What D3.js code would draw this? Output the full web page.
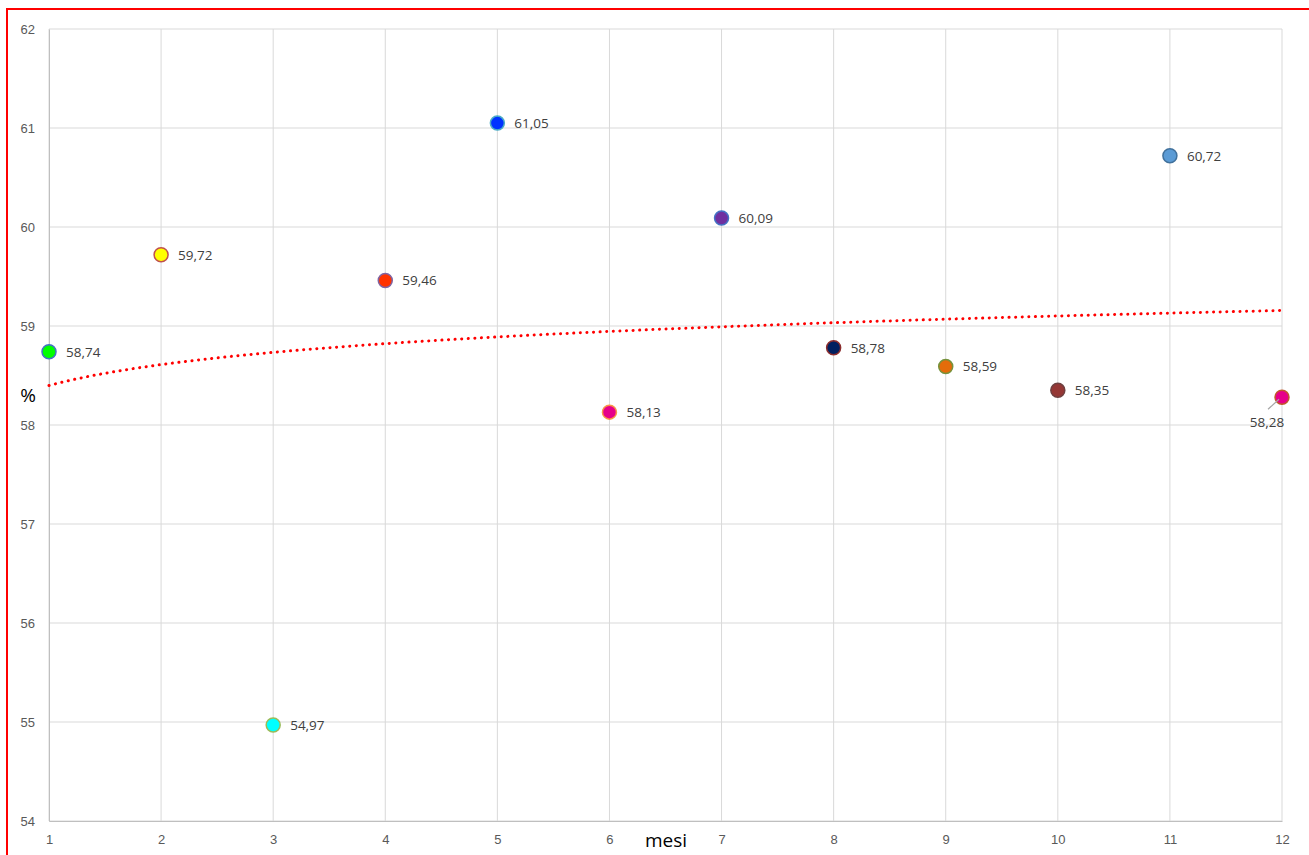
<!DOCTYPE html>
<html>
<head>
<meta charset="utf-8">
<script src="https://cdn.jsdelivr.net/npm/d3@7"></script>
<style>
  body { margin: 0; background: #fff; }
  svg { display: block; font-family: "Open Sans", "Noto Sans", sans-serif; }
  .grid line { stroke: #d9d9d9; stroke-width: 1; }
  .tick text { fill: #595959; font-size: 13px; }
  .lbl { fill: #404040; font-size: 13.5px; }
</style>
</head>
<body>
<svg width="1309" height="855"></svg>
<script>
// mesi e valori (%)
var months = [1, 2, 3, 4, 5, 6, 7, 8, 9, 10, 11, 12];
var values = [58.74, 59.72, 54.97, 59.46, 61.05, 58.13, 60.09, 58.78, 58.59, 58.35, 60.72, 58.28];
var labels = ["58,74", "59,72", "54,97", "59,46", "61,05", "58,13", "60,09", "58,78", "58,59", "58,35", "60,72", "58,28"];
var fills   = ["#00ff00", "#ffff00", "#00ffff", "#ff3300", "#0033ff", "#e6008a", "#7030a0", "#002060", "#e46c0a", "#953735", "#5b9bd5", "#e6008a"];
var strokes = ["#4472c4", "#c0504d", "#9bbb59", "#8064a2", "#4bacc6", "#f79646", "#4472c4", "#8b2d2d", "#76923c", "#6f4040", "#41719c", "#c05a2a"];
var yTicks = [54, 55, 56, 57, 58, 59, 60, 61, 62];

var svg = d3.select('svg');

var x = d3.scaleLinear().domain([1, 12]).range([49, 1282]);
var y = d3.scaleLinear().domain([54, 62]).range([821, 29]);

// outer red frame
svg.append('rect')
    .attr('x', 7).attr('y', 9)
    .attr('width', 1320).attr('height', 870)
    .attr('fill', 'none')
    .attr('stroke', '#ff0000')
    .attr('stroke-width', 2);

// grid
var grid = svg.append('g').attr('class', 'grid');
grid.selectAll('.h').data(yTicks).enter().append('line')
    .attr('x1', x(1)).attr('x2', x(12))
    .attr('y1', d => y(d)).attr('y2', d => y(d));
grid.selectAll('.v').data(months).enter().append('line')
    .attr('y1', y(54)).attr('y2', y(62))
    .attr('x1', d => x(d)).attr('x2', d => x(d));

// axes
var xAxis = svg.append('g')
    .attr('transform', 'translate(0,' + y(54) + ')')
    .call(d3.axisBottom(x).tickValues(months).tickSize(0).tickPadding(14).tickFormat(d3.format('d')));
xAxis.select('.domain').attr('stroke', '#bfbfbf');

var yAxis = svg.append('g')
    .attr('transform', 'translate(' + x(1) + ',0)')
    .call(d3.axisLeft(y).tickValues(yTicks).tickSize(0).tickPadding(14).tickFormat(d3.format('d')));
yAxis.select('.domain').attr('stroke', '#bfbfbf');

// axis titles
svg.append('text')
    .attr('x', 28).attr('y', 402)
    .attr('text-anchor', 'middle')
    .style('font-size', '19px').style('fill', '#000')
    .text('%');
svg.append('text')
    .attr('x', 666).attr('y', 847)
    .attr('text-anchor', 'middle')
    .style('font-size', '19px').style('fill', '#000')
    .text('mesi');

// logarithmic trendline (least squares on ln x)
var lx = months.map(Math.log);
var mx = d3.mean(lx), my = d3.mean(values);
var b = d3.sum(lx, (v, i) => (v - mx) * (values[i] - my)) / d3.sum(lx, v => (v - mx) * (v - mx));
var a = my - b * mx;
var trend = d3.range(0, 221).map(i => 1 + i * 11 / 220);

svg.append('path')
    .datum(trend)
    .attr('fill', 'none')
    .attr('stroke', '#ff0000')
    .attr('stroke-width', 3)
    .attr('stroke-linecap', 'round')
    .attr('stroke-dasharray', '0.1 6.5')
    .attr('d', d3.line().x(d => x(d)).y(d => y(a + b * Math.log(d))));

// points
var pts = svg.selectAll('.pt').data(months).enter().append('g');
pts.append('circle')
    .attr('cx', d => x(d))
    .attr('cy', (d, i) => y(values[i]))
    .attr('r', 7)
    .attr('fill', (d, i) => fills[i])
    .attr('stroke', (d, i) => strokes[i])
    .attr('stroke-width', 1.5);

// data labels
pts.filter((d, i) => i < 11).append('text')
    .attr('class', 'lbl')
    .attr('x', d => x(d) + 17)
    .attr('y', (d, i) => y(values[i]))
    .attr('dy', '0.36em')
    .text((d, i) => labels[i]);

// last label sits below-left with a leader line
var last = months.length - 1;
svg.append('line')
    .attr('x1', x(months[last]) - 14).attr('y1', y(values[last]) + 12)
    .attr('x2', x(months[last]) - 3).attr('y2', y(values[last]) + 2)
    .attr('stroke', '#a6a6a6').attr('stroke-width', 1.2);
svg.append('text')
    .attr('class', 'lbl')
    .attr('x', x(months[last]) - 15)
    .attr('y', y(values[last]) + 30)
    .attr('text-anchor', 'middle')
    .text(labels[last]);
</script>
</body>
</html>
